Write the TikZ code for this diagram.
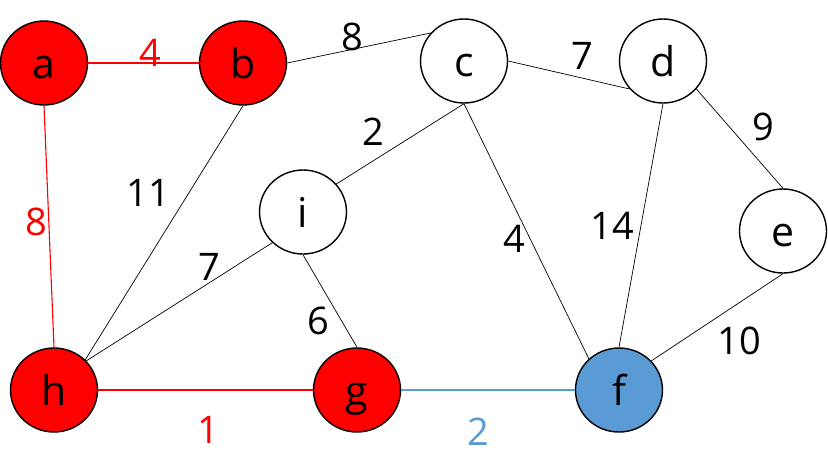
\documentclass[tikz,border=0pt]{standalone}
\usepackage{fontspec}
\setmainfont{Open Sans}
\usetikzlibrary{shapes.geometric}
\definecolor{hot}{RGB}{255,0,0}
\definecolor{cool}{RGB}{91,155,213}
\tikzset{
  vertex/.style={ellipse, draw=black, line width=1.4pt, fill=white,
                 minimum width=87pt, minimum height=84pt, inner sep=0pt,
                 font=\fontsize{41}{41}\selectfont, text height=30pt, text depth=0pt},
  redvertex/.style={vertex, fill=hot},
  bluevertex/.style={vertex, fill=cool},
  edge/.style={line width=0.7pt, black},
  rededge/.style={line width=1.1pt, hot},
  blueedge/.style={line width=1.1pt, cool},
  weight/.style={inner sep=0pt, font=\fontsize{38}{38}\selectfont,
                 text height=27pt, text depth=0pt},
}

\begin{document}
\begin{tikzpicture}[x=1pt, y=-1pt]
        \useasboundingbox (0,0) rectangle (828,475);

        % vertices
        \node[redvertex] (a) at (44,63) {a};
        \node[redvertex] (b) at (243,63) {b};
        \node[vertex] (c) at (464,61) {c};
        \node[vertex] (d) at (663,61) {d};
        \node[vertex] (e) at (783,231) {e};
        \node[vertex] (i) at (303,212) {i};
        \node[redvertex] (h) at (54,390) {h};
        \node[redvertex] (g) at (357,390) {g};
        \node[bluevertex] (f) at (619,390) {f};

        % edges
        \draw[rededge] (a.east) -- (b.west);
        \draw[rededge] (a.south) -- (h.north);
        \draw[rededge] (h.east) -- (g.west);
        \draw[blueedge] (g.east) -- (f.west);
        \draw[edge] (b.east) -- (c.140);
        \draw[edge] (b.south) -- (h.44);
        \draw[edge] (c.east) -- (d.220);
        \draw[edge] (c.south) -- (i.40);
        \draw[edge] (c.south) -- (f.134);
        \draw[edge] (d.320) -- (e.north);
        \draw[edge] (d.south) -- (f.north);
        \draw[edge] (e.south) -- (f.42);
        \draw[edge] (i.225) -- (h.42);
        \draw[edge] (i.south) -- (g.north);

        % weights
        \node[weight, hot] (wab) at (150,53) {4};
        \node[weight] (wbc) at (352,37) {8};
        \node[weight] (wcd) at (582,56) {7};
        \node[weight] (wde) at (763,127) {9};
        \node[weight] (wci) at (373,132) {2};
        \node[weight] (wbh) at (148,193) {11};
        \node[weight, hot] (wah) at (36,222) {8};
        \node[weight] (wih) at (209,267) {7};
        \node[weight] (wcf) at (514,239) {4};
        \node[weight] (wdf) at (612,226) {14};
        \node[weight] (wig) at (318,321) {6};
        \node[weight] (wef) at (739,341) {10};
        \node[weight, hot] (whg) at (208,430) {1};
        \node[weight, cool] (wgf) at (478,432) {2};

      \end{tikzpicture}
\end{document}
